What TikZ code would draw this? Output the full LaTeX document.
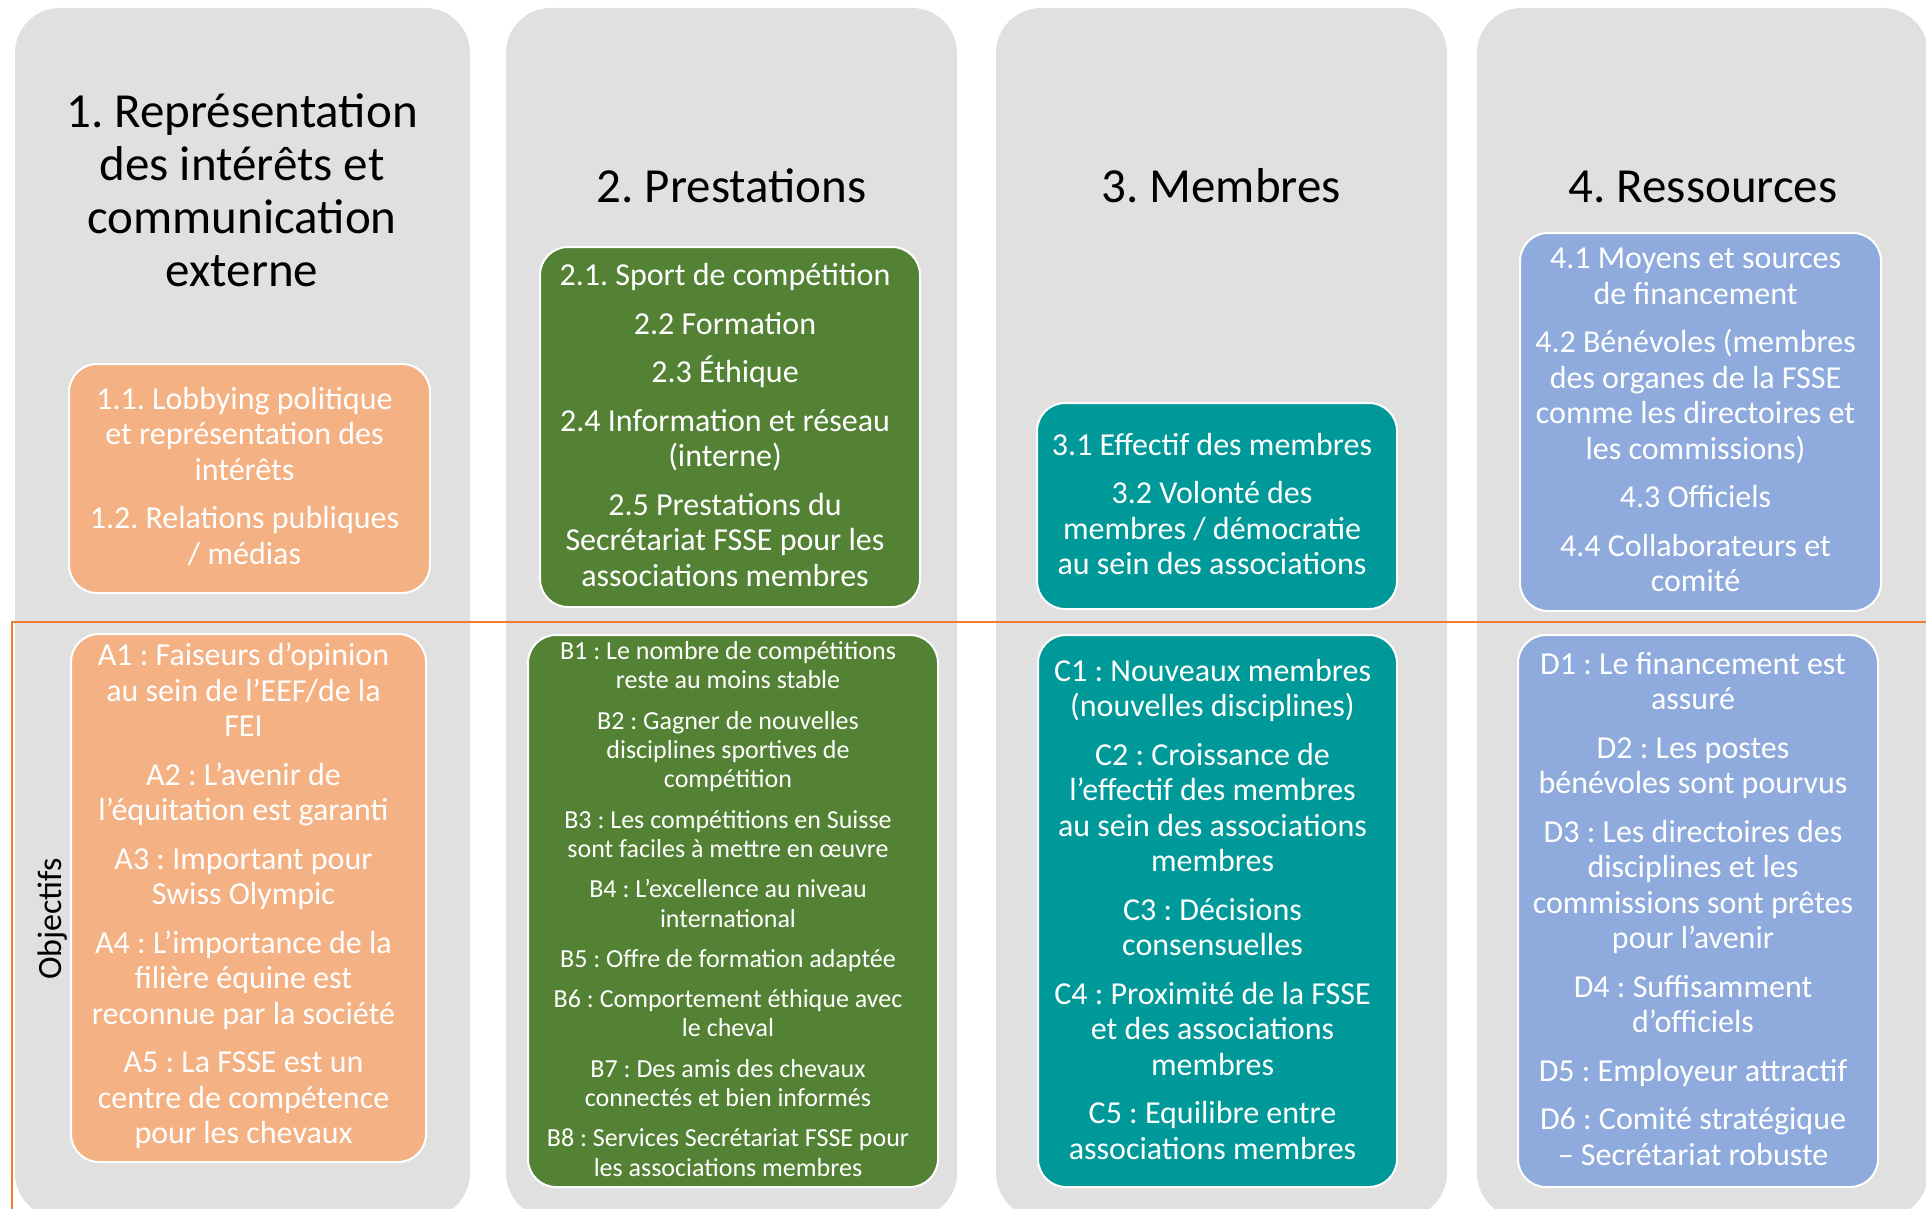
\documentclass[tikz,border=0pt]{standalone}
\usepackage{fontspec}
\setmainfont{Carlito}
\frenchspacing
\definecolor{colgray}{HTML}{E0E0E0}
\definecolor{cOrange}{HTML}{F4B183}
\definecolor{cGreen}{HTML}{548235}
\definecolor{cTeal}{HTML}{009999}
\definecolor{cBlue}{HTML}{8FAADC}
\definecolor{cLine}{HTML}{ED7D31}
\begin{document}
\begin{tikzpicture}[x=1pt,y=-1pt,
  colbg/.style={fill=colgray, rounded corners=45pt},
  card/.style={rounded corners=28pt, draw=white, line width=2pt, inner sep=0pt},
  cardtext/.style={text=white, align=center, inner sep=0pt, xshift=-5pt, yshift=2pt, font=\fontsize{32}{35.5}\selectfont\frenchspacing},
  smalltext/.style={cardtext, font=\fontsize{26}{29.3}\selectfont\frenchspacing},
  coltitle/.style={text=black, align=center, inner sep=0pt, font=\fontsize{49}{53}\selectfont\frenchspacing},
  divider/.style={draw=cLine, line width=2.8pt}
]
\useasboundingbox (0,0) rectangle (1926,1209);
\clip (0,0) rectangle (1926,1209);
\fill[white] (0,0) rectangle (1926,1209);
% columns
\fill[colbg] (15,8) rectangle (470,1218);
\fill[colbg] (506,8) rectangle (957,1218);
\fill[colbg] (996,8) rectangle (1447,1218);
\fill[colbg] (1477,8) rectangle (1928,1218);
% divider
\coordinate (dstart) at (12,1212);
\coordinate (dcorner) at (12,622);
\coordinate (dend) at (1930,622);
\draw[divider] (dstart) -- (dcorner) -- (dend);
% titles
\node[coltitle] (t1) at (242,190) {1. Représentation\\des intérêts et\\communication\\externe};
\node[coltitle, anchor=base] (t2) at (731.5,203) {2. Prestations};
\node[coltitle, anchor=base] (t3) at (1221,203) {3. Membres};
\node[coltitle, anchor=base] (t4) at (1703,203) {4. Ressources};
% top cards
\node[card, fill=cOrange, minimum width=361pt, minimum height=229pt] (p1) at (249.5,478.5) {};
\node[cardtext] (p1t) at (p1.center)
 {1.1. Lobbying politique\\et représentation des\\intérêts\\[13pt]1.2. Relations publiques\\/ médias};
\node[card, fill=cGreen, minimum width=380pt, minimum height=360pt] (p2) at (730,427) {};
\node[cardtext] (p2t) at (p2.center)
 {2.1. Sport de compétition\\[13pt]2.2 Formation\\[13pt]2.3 Éthique\\[13pt]2.4 Information et réseau\\(interne)\\[13pt]2.5 Prestations du\\Secrétariat FSSE pour les\\associations membres};
\node[card, fill=cTeal, minimum width=360pt, minimum height=206pt] (p3) at (1217,506) {};
\node[cardtext] (p3t) at (p3.center)
 {3.1 Effectif des membres\\[13pt]3.2 Volonté des\\membres / démocratie\\au sein des associations};
\node[card, fill=cBlue, minimum width=361pt, minimum height=378pt] (p4) at (1700.5,422) {};
\node[cardtext] (p4t) at (p4.center)
 {4.1 Moyens et sources\\de financement\\[13pt]4.2 Bénévoles (membres\\des organes de la FSSE\\comme les directoires et\\les commissions)\\[13pt]4.3 Officiels\\[13pt]4.4 Collaborateurs et\\comité};
% objective cards
\node[card, fill=cOrange, minimum width=355pt, minimum height=528pt] (oa) at (248.5,898) {};
\node[cardtext] (oat) at (oa.center)
 {A1 : Faiseurs d’opinion\\au sein de l’EEF/de la\\FEI\\[13pt]A2 : L’avenir de\\l’équitation est garanti\\[13pt]A3 : Important pour\\Swiss Olympic\\[13pt]A4 : L’importance de la\\filière équine est\\reconnue par la société\\[13pt]A5 : La FSSE est un\\centre de compétence\\pour les chevaux};
\node[card, fill=cGreen, minimum width=410pt, minimum height=552pt] (ob) at (733,911) {};
\node[smalltext] (obt) at (ob.center)
 {B1 : Le nombre de compétitions\\reste au moins stable\\[11pt]B2 : Gagner de nouvelles\\disciplines sportives de\\compétition\\[11pt]B3 : Les compétitions en Suisse\\sont faciles à mettre en œuvre\\[11pt]B4 : L’excellence au niveau\\international\\[11pt]B5 : Offre de formation adaptée\\[11pt]B6 : Comportement éthique avec\\le cheval\\[11pt]B7 : Des amis des chevaux\\connectés et bien informés\\[11pt]B8 : Services Secrétariat FSSE pour\\les associations membres};
\node[card, fill=cTeal, minimum width=359pt, minimum height=552pt] (oc) at (1217.5,911) {};
\node[cardtext] (oct) at (oc.center)
 {C1 : Nouveaux membres\\(nouvelles disciplines)\\[13pt]C2 : Croissance de\\l’effectif des membres\\au sein des associations\\membres\\[13pt]C3 : Décisions\\consensuelles\\[13pt]C4 : Proximité de la FSSE\\et des associations\\membres\\[13pt]C5 : Equilibre entre\\associations membres};
\node[card, fill=cBlue, minimum width=360pt, minimum height=552pt] (od) at (1698,911) {};
\node[cardtext] (odt) at (od.center)
 {D1 : Le financement est\\assuré\\[13pt]D2 : Les postes\\bénévoles sont pourvus\\[13pt]D3 : Les directoires des\\disciplines et les\\commissions sont prêtes\\pour l’avenir\\[13pt]D4 : Suffisamment\\d’officiels\\[13pt]D5 : Employeur attractif\\[13pt]D6 : Comité stratégique\\– Secrétariat robuste};
% side label
\node[rotate=90, inner sep=0pt, font=\fontsize{34}{38}\selectfont] (obj) at (53,919) {Objectifs};
\end{tikzpicture}
\end{document}
